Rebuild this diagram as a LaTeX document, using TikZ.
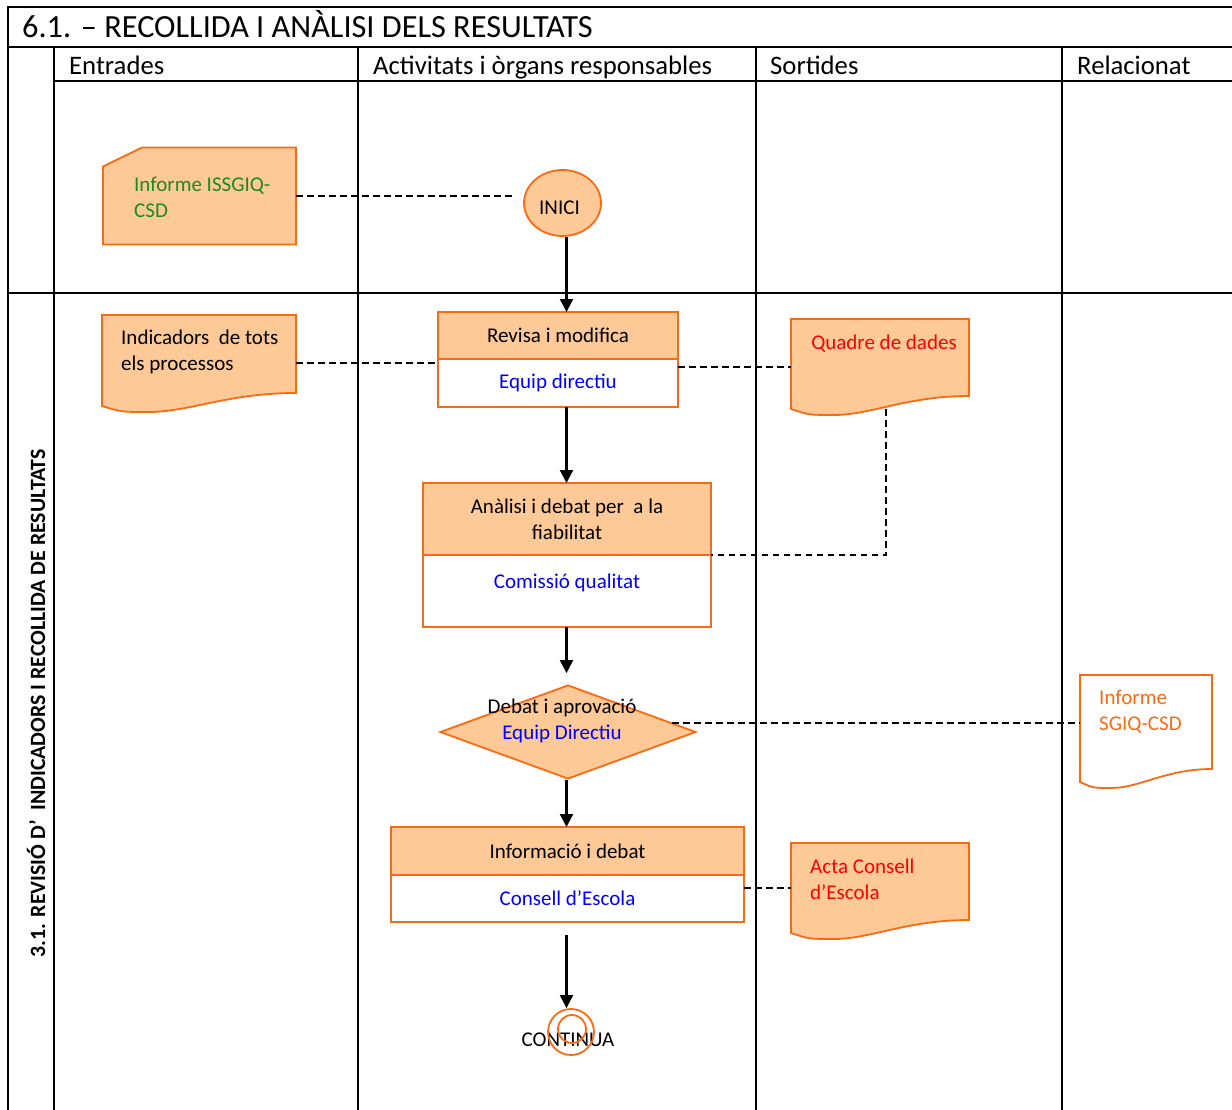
\documentclass[tikz,border=0pt]{standalone}
\usepackage{fontspec}
\setmainfont{Carlito}
\usetikzlibrary{arrows.meta,positioning,calc,shapes.geometric}
\definecolor{procfill}{HTML}{FDC997}
\definecolor{procline}{HTML}{FA6A12}
\definecolor{docgreen}{HTML}{1C8A1C}
\definecolor{docred}{HTML}{FF0000}
\definecolor{whoblue}{HTML}{0000FF}

% outline of a document symbol around an empty node (wavy bottom edge)
\newcommand{\docwave}[1]{(#1.north west) -- (#1.north east) -- ($(#1.south east)+(0,-13)$)
  .. controls ($(#1.south east)!0.35!(#1.south west)+(0,-13)$) and ($(#1.south east)!0.55!(#1.south west)+(0,6)$)
  .. ($(#1.south east)!0.76!(#1.south west)+(0,6)$)
  .. controls ($(#1.south east)!0.9!(#1.south west)+(0,6)$) .. (#1.south west) -- cycle}
% outline of a card with a cut top-left corner
\newcommand{\cardpath}[1]{($(#1.north west)+(0,19)$) -- ($(#1.north west)+(39,0)$) -- (#1.north east)
  -- (#1.south east) -- (#1.south west) -- cycle}

\begin{document}
\begin{tikzpicture}[x=1pt, y=-1pt,
  grid/.style={black, line width=2pt},
  hdr/.style={font=\fontsize{26.7}{30}\selectfont, anchor=base west, inner sep=0pt},
  body/.style={font=\fontsize{21}{26}\selectfont},
  task/.style={rectangle, draw=procline, line width=1.8pt, fill=procfill, inner sep=0pt, outer sep=0pt, body, align=center},
  who/.style={task, fill=white, text=whoblue},
  doc/.style={inner sep=0pt, outer sep=0pt, minimum width=#1},
  docout/.style={draw=procline, line width=1.8pt, fill=procfill},
  doctxt/.style={body, align=left, anchor=north west, inner sep=0pt},
  flow/.style={black, line width=2.2pt, -{Triangle[width=13pt,length=13pt]}},
  link/.style={black, line width=1.5pt, dash pattern=on 6.5pt off 4.5pt},
]
\useasboundingbox (0,0) rectangle (1232,1110);

% Table frame
\draw[grid] (8,1111) -- (8,7) -- (1233,7);
\draw[grid] (8,47) -- (1233,47);
\draw[grid] (54,81) -- (1233,81);
\draw[grid] (8,293) -- (1233,293);
\foreach \cx in {54,358,756,1062}
  \draw[grid] (\cx,47) -- (\cx,1111);

% Title and column headers
\node[hdr, font=\fontsize{32.3}{36}\selectfont] (title) at (22,38) {6.1. – RECOLLIDA I ANÀLISI DELS RESULTATS};
\node[hdr] (hin) at (69,74.5) {Entrades};
\node[hdr] (hact) at (373,74.5) {Activitats i òrgans responsables};
\node[hdr] (hout) at (770,74.5) {Sortides};
\node[hdr] (hrel) at (1077,74.5) {Relacionat};
\node[font=\fontsize{21.8}{24}\selectfont\bfseries, rotate=90] (lane) at (36,703.5)
  {3.1. REVISIÓ D’\ \ INDICADORS I RECOLLIDA DE RESULTATS};

% Inputs
\node[doc=193, minimum height=97] (isg) at (199.5,196) {};
\draw[docout] \cardpath{isg};
\node[doctxt, text=docgreen] (isgtxt) at ($(isg.north west)+(31,29)$) {Informe ISSGIQ-\\CSD};

\node[doc=194, minimum height=91] (ind) at (199,360.5) {};
\draw[docout] \docwave{ind};
\node[doctxt] (indtxt) at ($(ind.north west)+(19,15)$) {Indicadors\ \ de tots\\els processos};

% Activities
\coordinate (axis) at (566.5,0);
\node[ellipse, draw=procline, line width=1.8pt, fill=procfill, inner sep=0pt, minimum width=77, minimum height=66, body] (ini) at (562.5,203) {};
\node[body, inner sep=0pt] (initxt) at ($(ini.center)+(-3,5)$) {INICI};

\node[task, minimum width=240, minimum height=47] (rev) at (558,335.5) {Revisa i modifica};
\node[who, minimum width=240, minimum height=48, below=0pt of rev] (revb) {Equip directiu};

\node[task, minimum width=288, minimum height=72] (ana) at (567,519) {Anàlisi i debat per\ \ a la\\fiabilitat};
\node[who, minimum width=288, minimum height=72, text height=14pt, text depth=20pt, below=0pt of ana] (anab) {Comissió qualitat};

\node[diamond, draw=procline, line width=1.8pt, fill=procfill, inner sep=0pt, minimum width=256, minimum height=94] (dia) at (568,732) {};
\node[body, align=center, inner sep=0pt] (diatxt) at ($(dia.center)+(-6,-11)$) {Debat i aprovació\\\textcolor{whoblue}{Equip Directiu}};

\node[task, minimum width=353, minimum height=48] (inf) at (567.5,851) {Informació i debat};
\node[who, minimum width=353, minimum height=47, below=0pt of inf] (infb) {Consell d’Escola};

\node[body, inner sep=0pt] (fintxt) at (568,1040) {CONTINUA};
\node[circle, draw=procline, line width=1.8pt, inner sep=0pt, minimum size=46] (fin) at (571,1032) {};
\node[circle, draw=procline, line width=1.8pt, inner sep=0pt, minimum size=28] (fincore) at (572,1029) {};

% Outputs
\node[doc=178, minimum height=90] (quad) at (880,364) {};
\draw[docout] \docwave{quad};
\node[body, text=docred, anchor=north, inner sep=0pt] (quadtxt) at ($(quad.north)+(4,16)$) {Quadre de dades};

\node[doc=178, minimum height=90] (act) at (880,888) {};
\draw[docout] \docwave{act};
\node[doctxt, text=docred] (acttxt) at ($(act.north west)+(19,16)$) {Acta Consell\\d’Escola};

% Related
\node[doc=132, minimum height=107] (sg) at (1146,728.5) {};
\draw[docout, fill=white] \docwave{sg};
\node[doctxt, text=procline] (sgtxt) at ($(sg.north west)+(19,15)$) {Informe\\SGIQ-CSD};

% Flow
\draw[flow] (ini.south -| axis) -- (rev.north -| axis);
\draw[flow] (revb.south -| axis) -- (ana.north -| axis);
\draw[flow, shorten >=11pt] (anab.south -| axis) -- (dia.north -| axis);
\draw[flow] (dia.south -| axis) -- (inf.north -| axis);
\draw[flow, shorten <=13pt] (infb.south -| axis) -- (fin.north -| axis);

% Dashed links
\draw[link, shorten >=9pt] (isg.east) -- (isg.east -| ini.west);
\coordinate (indout) at ($(ind.east)+(0,2.5)$);
\draw[link] (indout) -- (indout -| rev.west);
\coordinate (quadin) at ($(quad.west)+(0,3)$);
\draw[link] (quadin -| revb.east) -- (quadin);
\coordinate (quaddown) at ($(quad.south west)!0.535!(quad.south east)$);
\draw[link] (quaddown) |- (anab.north east);
\coordinate (diaout) at ($(dia.east)!0.19!(dia.north)$);
\draw[link] (diaout) -- (diaout -| sg.west);
\draw[link] (infb.east |- act.west) -- (act.west);
\end{tikzpicture}
\end{document}
